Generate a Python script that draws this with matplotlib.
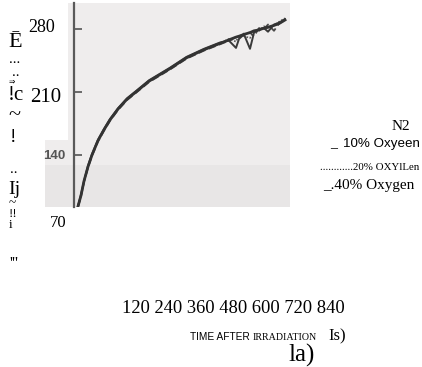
import matplotlib
matplotlib.use('Agg')
import matplotlib.pyplot as plt
from matplotlib.patches import Rectangle

W, H = 422, 367

# ---- data ----
time_s = [16, 28, 40, 56, 72, 96, 120, 144, 176, 212, 252, 300, 384, 450, 520, 584,
          620, 648, 660, 680, 704, 720, 740, 760, 776, 800, 820, 844]
n2     = [83, 95, 111, 127, 140, 156, 168, 179, 191, 202, 211, 222, 236, 248, 257, 264,
          268, 271, 272, 274, 276, 278, 279, 281, 282, 284, 286, 290]
oxy10  = [83, 96, 111, 128, 141, 157, 169, 180, 192, 203, 212, 223, 237, 249, 258, 265,
          267, 259, 269, 274, 258, 276, 280, 281, 277, 285, 287, 291]
oxy20  = [84, 95, 110, 127, 140, 156, 168, 179, 191, 202, 211, 222, 236, 248, 257, 264,
          269, 266, 273, 272, 270, 278, 278, 283, 281, 284, 288, 292]
oxy40  = [82, 94, 110, 126, 139, 155, 167, 178, 190, 201, 210, 221, 235, 247, 256, 263,
          267, 271, 270, 275, 276, 272, 281, 280, 285, 278, 286, 290]
y_ticks = [140, 210, 280]
y_ticklabels = ['140', '', '']

SERIF = 'Liberation Serif'

fig = plt.figure(figsize=(W / 100, H / 100), dpi=100)
fig.patch.set_facecolor('white')

ax = fig.add_axes([45 / W, 1 - 207 / H, 245 / W, 204 / H])
ax.set_xlim(-116, 864)
ax.set_ylim(82.2, 308.9)
ax.set_facecolor('#efeded')
# scan background pieces
ax.add_patch(Rectangle((0, 0.328), 23 / 245, 0.672, transform=ax.transAxes,
                       facecolor='white', edgecolor='none', zorder=0))
ax.add_patch(Rectangle((0, 0), 1, 0.206, transform=ax.transAxes,
                       facecolor='#e8e6e6', edgecolor='none', zorder=0))

ax.plot(time_s, oxy20, color='#5a5a5a', lw=1.2, ls=(0, (1, 1)), zorder=2)
ax.plot(time_s, oxy40, color='#4a4a4a', lw=1.3, ls=(0, (4, 2)), zorder=2)
ax.plot(time_s, oxy10, color='#3a3a3a', lw=1.4, zorder=3)
ax.plot(time_s, n2, color='#333333', lw=2.0, zorder=3)

for s in ['top', 'right', 'bottom']:
    ax.spines[s].set_visible(False)
ax.spines['left'].set_position(('data', 0))
ax.spines['left'].set_color('#5a5a5a')
ax.spines['left'].set_linewidth(1.6)
ax.set_xticks([])
ax.set_yticks(y_ticks)
ax.set_yticklabels(y_ticklabels)
ax.tick_params(axis='y', direction='in', length=6, width=1.4, color='#6a6a6a', pad=6.5)
for lab in ax.get_yticklabels():
    lab.set_fontfamily('Liberation Sans')
    lab.set_fontweight('bold')
    lab.set_fontsize(9.5)
    lab.set_color('#555555')


def T(x, y, s, size, family=SERIF, **kw):
    fig.text(x / W, 1 - y / H, s, fontsize=size, family=family,
             ha='left', va='baseline', color='black', **kw)


# OCR'd left column
T(8, 47, 'Ē', 16)
T(28, 32, '280', 13)
T(9, 63, '...', 11)
T(12, 76, '..', 11)
T(9, 84, '⇒', 5.5, family=[SERIF, 'DejaVu Sans'])
T(8, 100, '!c', 15)
T(30, 102, '210', 15)
T(8, 120, '~', 16)
T(10, 142, '!', 14)
T(10, 173, '..', 11)
T(8, 194, 'Ij', 14)
T(9, 228, '~\n!!\ni', 9.5, linespacing=0.9)
T(9, 268, "'''", 12)
T(50, 227, '70', 12)

# legend text
T(392, 130, 'N2', 11)
T(330, 147, '_', 10)
T(343, 147, '10% Oxyeen', 9.6, family='Liberation Sans')
T(320, 170, '............20% OXYlLen', 7.8)
T(323, 189, '_.40% Oxygen', 11)

# x axis text
T(122, 313, '120 240 360 480 600 720 840', 13.3)
T(190, 340, 'TIME AFTER', 7.3, family='Liberation Sans')
T(253, 340, 'IRRADIATION', 7.2)
T(328, 340, 'Is)', 12)
T(288, 362, 'la)', 18)

fig.savefig('out.png', dpi=100)
